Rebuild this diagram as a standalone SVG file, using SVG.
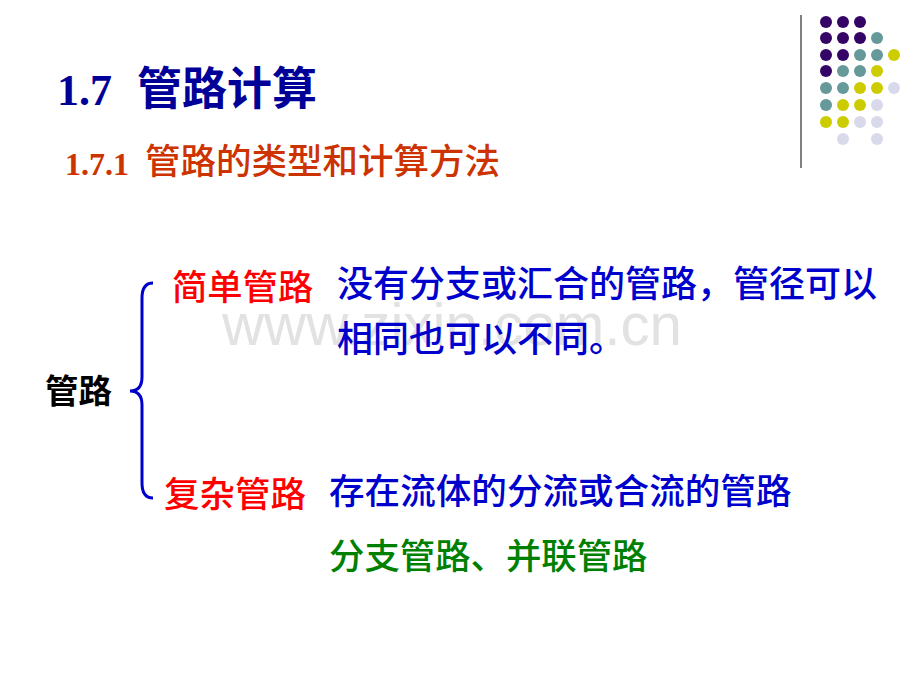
<svg xmlns="http://www.w3.org/2000/svg" width="920" height="690" viewBox="0 0 920 690">
<style>
.cjk{font-family:"Noto Sans CJK SC","Liberation Sans",sans-serif;}
.body{font-weight:500;}
.num{font-family:"Liberation Serif",serif;font-weight:bold;}
.p{fill:#340466}.t{fill:#669999}.y{fill:#cccc00}.l{fill:#d9d9ec}
</style>
<rect width="920" height="690" fill="#ffffff"/>
<g id="decor">
<line x1="801" y1="15" x2="801" y2="168" stroke="#808080" stroke-width="2"/>
<circle class="p" cx="826" cy="22" r="6"/><circle class="p" cx="843" cy="22" r="6"/><circle class="p" cx="860" cy="22" r="6"/>
<circle class="p" cx="826" cy="38" r="6"/><circle class="p" cx="843" cy="38" r="6"/><circle class="p" cx="860" cy="38" r="6"/><circle class="t" cx="877" cy="38" r="6"/>
<circle class="p" cx="826" cy="55" r="6"/><circle class="p" cx="843" cy="55" r="6"/><circle class="t" cx="860" cy="55" r="6"/><circle class="t" cx="877" cy="55" r="6"/><circle class="y" cx="894" cy="55" r="6"/>
<circle class="p" cx="826" cy="71" r="6"/><circle class="t" cx="843" cy="71" r="6"/><circle class="t" cx="860" cy="71" r="6"/><circle class="y" cx="877" cy="71" r="6"/>
<circle class="t" cx="826" cy="88" r="6"/><circle class="t" cx="843" cy="88" r="6"/><circle class="y" cx="860" cy="88" r="6"/><circle class="y" cx="877" cy="88" r="6"/><circle class="l" cx="894" cy="88" r="6"/>
<circle class="t" cx="826" cy="105" r="6"/><circle class="y" cx="843" cy="105" r="6"/><circle class="y" cx="860" cy="105" r="6"/><circle class="l" cx="877" cy="105" r="6"/>
<circle class="y" cx="826" cy="122" r="6"/><circle class="y" cx="843" cy="122" r="6"/><circle class="l" cx="860" cy="122" r="6"/><circle class="l" cx="877" cy="122" r="6"/>
<circle class="l" cx="843" cy="139" r="6"/><circle class="l" cx="877" cy="139" r="6"/>
</g>
<text x="222" y="345" font-family="Liberation Sans,Arial,sans-serif" font-size="58.3" fill="#e2e2e2">www.zixin.com.cn</text>
<g id="title">
<text x="57" y="105" class="num" font-size="44" fill="#000099">1.7</text>
<text x="137" y="105" class="cjk" font-size="45" font-weight="bold" fill="#000099">管路计算</text>
</g>
<g id="subtitle">
<text x="65" y="175" class="num" font-size="32" fill="#cc3300">1.7.1</text>
<text x="145" y="174" class="cjk body" font-size="35.5" fill="#cc3300">管路的类型和计算方法</text>
</g>
<g id="connectors">
<path d="M153,283 Q142,283 142,298 L142,377 Q142,391 130,391 Q142,391 142,405 L142,483 Q142,498 153,498" fill="none" stroke="#0000cc" stroke-width="3"/>
</g>
<g id="root">
<text x="45" y="403" class="cjk" font-size="33.5" font-weight="bold" fill="#000000">管路</text>
</g>
<g id="simple">
<text x="172" y="300" class="cjk body" font-size="35.3" fill="#ff0000">简单管路</text>
<text x="337" y="297" class="cjk body" font-size="36" fill="#0000cc">没有分支或汇合的管路，管径可以</text>
<text x="337" y="352" class="cjk body" font-size="36" fill="#0000cc">相同也可以不同。</text>
</g>
<g id="complex">
<text x="164" y="507" class="cjk body" font-size="35.5" fill="#ff0000">复杂管路</text>
<text x="329" y="504" class="cjk body" font-size="35.6" fill="#0000cc">存在流体的分流或合流的管路</text>
<text x="329" y="569" class="cjk body" font-size="35.4" fill="#008000">分支管路、并联管路</text>
</g>
</svg>
